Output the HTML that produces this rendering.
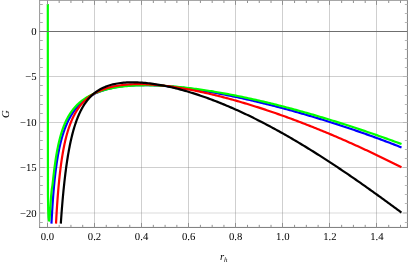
<!DOCTYPE html>
<html><head><meta charset="utf-8"><title>plot</title>
<style>
html,body{margin:0;padding:0;background:#fff;}
body{width:409px;height:264px;overflow:hidden;font-family:"Liberation Serif",serif;}
svg{display:block;}
text{font-family:"Liberation Serif",serif;fill:#000;text-rendering:geometricPrecision;}
</style></head><body>
<svg width="409" height="264" viewBox="0 0 409 264">
<rect x="0" y="0" width="409" height="264" fill="#fff"/>

<g stroke-width="1" fill="none" shape-rendering="crispEdges" stroke-opacity="0.38">
<line x1="47.50" y1="0.5" x2="47.50" y2="227.45" stroke="#808080"/>
<line x1="94.50" y1="0.5" x2="94.50" y2="227.45" stroke="#808080"/>
<line x1="141.50" y1="0.5" x2="141.50" y2="227.45" stroke="#808080"/>
<line x1="188.50" y1="0.5" x2="188.50" y2="227.45" stroke="#808080"/>
<line x1="235.50" y1="0.5" x2="235.50" y2="227.45" stroke="#808080"/>
<line x1="282.50" y1="0.5" x2="282.50" y2="227.45" stroke="#808080"/>
<line x1="329.50" y1="0.5" x2="329.50" y2="227.45" stroke="#808080"/>
<line x1="376.50" y1="0.5" x2="376.50" y2="227.45" stroke="#808080"/>
<line x1="39.5" y1="31.50" x2="407.5" y2="31.50" stroke="#808080"/>
<line x1="39.5" y1="76.50" x2="407.5" y2="76.50" stroke="#808080"/>
<line x1="39.5" y1="122.50" x2="407.5" y2="122.50" stroke="#808080"/>
<line x1="39.5" y1="167.50" x2="407.5" y2="167.50" stroke="#808080"/>
<rect x="39.5" y="212" width="368.0" height="2" fill="#808080" fill-opacity="0.14" stroke="none"/>
</g>
<g fill="none" stroke-width="2.2" stroke-linejoin="round" stroke-linecap="square">
<path d="M51.51,222.50 L51.71,218.61 L52.08,212.11 L52.46,206.16 L52.83,200.72 L53.20,195.72 L53.57,191.12 L53.94,186.86 L54.32,182.92 L54.69,179.25 L55.06,175.83 L55.43,172.63 L55.80,169.63 L56.18,166.81 L56.55,164.16 L56.92,161.66 L57.29,159.29 L57.66,157.04 L58.03,154.91 L58.41,152.89 L58.78,150.96 L59.15,149.12 L59.52,147.37 L59.89,145.69 L60.27,144.08 L60.64,142.54 L61.01,141.07 L61.38,139.65 L61.75,138.28 L62.13,136.97 L62.50,135.71 L62.87,134.49 L63.24,133.32 L63.61,132.18 L63.98,131.08 L64.36,130.03 L64.73,129.00 L65.10,128.01 L65.47,127.05 L65.84,126.12 L66.22,125.21 L66.59,124.34 L66.96,123.48 L67.33,122.66 L67.70,121.86 L68.08,121.07 L68.45,120.32 L68.82,119.58 L69.19,118.86 L69.56,118.16 L69.94,117.48 L70.31,116.81 L70.68,116.16 L71.05,115.53 L71.42,114.92 L71.79,114.32 L72.17,113.73 L72.54,113.16 L72.91,112.60 L73.28,112.05 L73.65,111.52 L74.03,111.00 L74.40,110.49 L74.77,109.99 L75.14,109.50 L75.51,109.03 L75.89,108.56 L76.26,108.10 L76.63,107.66 L77.00,107.22 L77.37,106.79 L77.74,106.37 L78.12,105.96 L78.49,105.56 L78.86,105.17 L79.23,104.78 L79.60,104.40 L79.98,104.03 L80.35,103.67 L80.72,103.31 L81.09,102.96 L81.46,102.62 L81.84,102.28 L82.21,101.95 L82.58,101.63 L82.95,101.31 L83.32,101.00 L83.70,100.69 L84.07,100.39 L84.44,100.09 L84.81,99.80 L85.18,99.52 L85.55,99.24 L85.93,98.97 L86.30,98.70 L86.67,98.43 L87.04,98.17 L87.41,97.92 L87.79,97.67 L88.16,97.42 L88.53,97.18 L88.90,96.94 L89.27,96.71 L89.65,96.48 L90.02,96.25 L90.39,96.03 L90.76,95.81 L91.13,95.60 L91.50,95.39 L91.88,95.18 L92.25,94.98 L92.62,94.78 L92.99,94.58 L93.36,94.39 L93.74,94.20 L94.11,94.01 L94.48,93.83 L96.02,93.10 L97.56,92.42 L99.09,91.79 L100.63,91.20 L102.17,90.65 L103.71,90.14 L105.24,89.66 L106.78,89.21 L108.32,88.80 L109.86,88.41 L111.40,88.06 L112.93,87.72 L114.47,87.42 L116.01,87.13 L117.55,86.87 L119.08,86.63 L120.62,86.42 L122.16,86.22 L123.70,86.03 L125.24,85.87 L126.77,85.72 L128.31,85.59 L129.85,85.48 L131.39,85.37 L132.92,85.29 L134.46,85.21 L136.00,85.15 L137.54,85.11 L139.08,85.07 L140.61,85.05 L142.15,85.04 L143.69,85.04 L145.23,85.04 L146.76,85.06 L148.30,85.09 L149.84,85.13 L151.38,85.18 L152.92,85.24 L154.45,85.30 L155.99,85.38 L157.53,85.46 L159.07,85.55 L160.60,85.65 L162.14,85.75 L163.68,85.86 L165.22,85.98 L166.76,86.11 L168.29,86.24 L169.83,86.38 L171.37,86.53 L172.91,86.68 L174.45,86.84 L175.98,87.00 L177.52,87.17 L179.06,87.35 L180.60,87.53 L182.13,87.72 L183.67,87.91 L185.21,88.11 L186.75,88.31 L188.29,88.51 L189.82,88.73 L191.36,88.94 L192.90,89.16 L194.44,89.39 L195.97,89.62 L197.51,89.85 L199.05,90.09 L200.59,90.34 L202.13,90.58 L203.66,90.84 L205.20,91.09 L206.74,91.35 L208.28,91.61 L209.81,91.88 L211.35,92.15 L212.89,92.43 L214.43,92.71 L215.97,92.99 L217.50,93.27 L219.04,93.56 L220.58,93.86 L222.12,94.15 L223.65,94.45 L225.19,94.75 L226.73,95.06 L228.27,95.37 L229.81,95.68 L231.34,96.00 L232.88,96.32 L234.42,96.64 L235.96,96.97 L237.49,97.29 L239.03,97.63 L240.57,97.96 L242.11,98.30 L243.65,98.64 L245.18,98.98 L246.72,99.33 L248.26,99.68 L249.80,100.03 L251.33,100.39 L252.87,100.74 L254.41,101.10 L255.95,101.47 L257.49,101.83 L259.02,102.20 L260.56,102.57 L262.10,102.95 L263.64,103.33 L265.17,103.71 L266.71,104.09 L268.25,104.47 L269.79,104.86 L271.33,105.25 L272.86,105.64 L274.40,106.04 L275.94,106.44 L277.48,106.84 L279.01,107.24 L280.55,107.65 L282.09,108.06 L283.63,108.47 L285.17,108.88 L286.70,109.30 L288.24,109.72 L289.78,110.14 L291.32,110.56 L292.85,110.99 L294.39,111.42 L295.93,111.85 L297.47,112.28 L299.01,112.72 L300.54,113.16 L302.08,113.60 L303.62,114.04 L305.16,114.49 L306.69,114.94 L308.23,115.39 L309.77,115.84 L311.31,116.30 L312.85,116.75 L314.38,117.21 L315.92,117.68 L317.46,118.14 L319.00,118.61 L320.53,119.08 L322.07,119.56 L323.61,120.03 L325.15,120.51 L326.69,120.99 L328.22,121.47 L329.76,121.96 L331.30,122.45 L332.84,122.94 L334.38,123.43 L335.91,123.92 L337.45,124.42 L338.99,124.92 L340.53,125.43 L342.06,125.93 L343.60,126.44 L345.14,126.95 L346.68,127.46 L348.22,127.98 L349.75,128.49 L351.29,129.01 L352.83,129.54 L354.37,130.06 L355.90,130.59 L357.44,131.12 L358.98,131.65 L360.52,132.19 L362.06,132.73 L363.59,133.27 L365.13,133.81 L366.67,134.35 L368.21,134.90 L369.74,135.45 L371.28,136.00 L372.82,136.56 L374.36,137.12 L375.90,137.68 L377.43,138.24 L378.97,138.81 L380.51,139.38 L382.05,139.95 L383.58,140.52 L385.12,141.10 L386.66,141.68 L388.20,142.26 L389.74,142.84 L391.27,143.43 L392.81,144.02 L394.35,144.61 L395.89,145.21 L397.42,145.80 L398.96,146.40 L400.50,147.01" stroke="#0000ff"/>
<path d="M47.80,5.00 L47.85,100.00 L47.95,196.00 L48.20,210.00 L48.50,217.00 L48.90,220.30 L49.20,220.60 L49.50,219.50 L49.90,215.00 L50.40,207.00 L51.10,196.00 L51.70,190.00 L52.46,185.10 L52.82,181.85 L53.18,178.66 L53.53,175.55 L53.89,172.55 L54.24,169.68 L54.60,166.93 L54.96,164.31 L55.31,161.81 L55.67,159.44 L56.02,157.18 L56.38,155.02 L56.74,152.97 L57.09,151.01 L57.45,149.14 L57.81,147.36 L58.16,145.65 L58.52,144.02 L58.87,142.46 L59.23,140.97 L59.59,139.53 L59.94,138.15 L60.30,136.83 L60.65,135.56 L61.01,134.34 L61.37,133.16 L61.72,132.03 L62.08,130.93 L62.43,129.88 L62.79,128.86 L63.15,127.87 L63.50,126.92 L63.86,126.00 L64.21,125.11 L64.57,124.25 L64.93,123.41 L65.28,122.60 L65.64,121.81 L65.99,121.05 L66.35,120.31 L66.71,119.59 L67.06,118.89 L67.42,118.21 L67.77,117.55 L68.13,116.90 L68.49,116.28 L68.84,115.66 L69.20,115.07 L69.56,114.49 L69.91,113.93 L70.27,113.38 L70.62,112.84 L70.98,112.31 L71.34,111.80 L71.69,111.30 L72.05,110.81 L72.40,110.34 L72.76,109.87 L73.12,109.42 L73.47,108.97 L73.83,108.54 L74.18,108.11 L74.54,107.69 L74.90,107.29 L75.25,106.89 L75.61,106.50 L75.96,106.11 L76.32,105.74 L76.68,105.37 L77.03,105.01 L77.39,104.66 L77.74,104.31 L78.10,103.98 L78.46,103.64 L78.81,103.32 L79.17,103.00 L79.53,102.69 L79.88,102.38 L80.24,102.08 L80.59,101.78 L80.95,101.49 L81.31,101.20 L81.66,100.92 L82.02,100.65 L82.37,100.38 L82.73,100.11 L83.09,99.85 L83.44,99.60 L83.80,99.35 L84.15,99.10 L84.51,98.86 L84.87,98.62 L85.22,98.38 L85.58,98.15 L85.93,97.92 L86.29,97.70 L86.65,97.48 L87.00,97.27 L87.36,97.05 L87.71,96.85 L88.07,96.64 L88.43,96.44 L88.78,96.24 L89.14,96.05 L89.50,95.85 L89.85,95.67 L90.21,95.48 L90.56,95.30 L90.92,95.12 L91.28,94.94 L91.63,94.76 L91.99,94.59 L92.34,94.42 L92.70,94.26 L93.06,94.09 L93.41,93.93 L93.77,93.77 L94.12,93.62 L94.48,93.46 L96.02,92.83 L97.56,92.23 L99.09,91.67 L100.63,91.15 L102.17,90.66 L103.71,90.20 L105.24,89.77 L106.78,89.37 L108.32,89.00 L109.86,88.65 L111.40,88.32 L112.93,88.01 L114.47,87.73 L116.01,87.47 L117.55,87.22 L119.08,86.99 L120.62,86.78 L122.16,86.59 L123.70,86.41 L125.24,86.25 L126.77,86.10 L128.31,85.96 L129.85,85.84 L131.39,85.73 L132.92,85.64 L134.46,85.55 L136.00,85.48 L137.54,85.42 L139.08,85.37 L140.61,85.33 L142.15,85.30 L143.69,85.28 L145.23,85.27 L146.76,85.27 L148.30,85.27 L149.84,85.29 L151.38,85.31 L152.92,85.35 L154.45,85.39 L155.99,85.44 L157.53,85.49 L159.07,85.56 L160.60,85.63 L162.14,85.71 L163.68,85.79 L165.22,85.88 L166.76,85.98 L168.29,86.09 L169.83,86.20 L171.37,86.31 L172.91,86.44 L174.45,86.57 L175.98,86.70 L177.52,86.84 L179.06,86.99 L180.60,87.14 L182.13,87.30 L183.67,87.46 L185.21,87.63 L186.75,87.80 L188.29,87.98 L189.82,88.16 L191.36,88.35 L192.90,88.55 L194.44,88.74 L195.97,88.95 L197.51,89.15 L199.05,89.36 L200.59,89.58 L202.13,89.80 L203.66,90.03 L205.20,90.25 L206.74,90.49 L208.28,90.73 L209.81,90.97 L211.35,91.21 L212.89,91.46 L214.43,91.72 L215.97,91.97 L217.50,92.23 L219.04,92.50 L220.58,92.77 L222.12,93.04 L223.65,93.32 L225.19,93.60 L226.73,93.88 L228.27,94.17 L229.81,94.46 L231.34,94.76 L232.88,95.05 L234.42,95.35 L235.96,95.66 L237.49,95.97 L239.03,96.28 L240.57,96.59 L242.11,96.91 L243.65,97.23 L245.18,97.56 L246.72,97.89 L248.26,98.22 L249.80,98.55 L251.33,98.89 L252.87,99.23 L254.41,99.57 L255.95,99.92 L257.49,100.27 L259.02,100.62 L260.56,100.97 L262.10,101.33 L263.64,101.69 L265.17,102.06 L266.71,102.43 L268.25,102.79 L269.79,103.17 L271.33,103.54 L272.86,103.92 L274.40,104.30 L275.94,104.69 L277.48,105.07 L279.01,105.46 L280.55,105.85 L282.09,106.25 L283.63,106.65 L285.17,107.05 L286.70,107.45 L288.24,107.85 L289.78,108.26 L291.32,108.67 L292.85,109.08 L294.39,109.50 L295.93,109.92 L297.47,110.34 L299.01,110.76 L300.54,111.19 L302.08,111.62 L303.62,112.05 L305.16,112.48 L306.69,112.92 L308.23,113.35 L309.77,113.79 L311.31,114.24 L312.85,114.68 L314.38,115.13 L315.92,115.58 L317.46,116.03 L319.00,116.49 L320.53,116.94 L322.07,117.40 L323.61,117.86 L325.15,118.33 L326.69,118.79 L328.22,119.26 L329.76,119.73 L331.30,120.21 L332.84,120.68 L334.38,121.16 L335.91,121.64 L337.45,122.12 L338.99,122.60 L340.53,123.09 L342.06,123.58 L343.60,124.07 L345.14,124.56 L346.68,125.06 L348.22,125.55 L349.75,126.05 L351.29,126.55 L352.83,127.06 L354.37,127.56 L355.90,128.07 L357.44,128.58 L358.98,129.09 L360.52,129.61 L362.06,130.12 L363.59,130.64 L365.13,131.16 L366.67,131.68 L368.21,132.21 L369.74,132.73 L371.28,133.26 L372.82,133.79 L374.36,134.32 L375.90,134.86 L377.43,135.39 L378.97,135.93 L380.51,136.47 L382.05,137.01 L383.58,137.56 L385.12,138.10 L386.66,138.65 L388.20,139.20 L389.74,139.75 L391.27,140.31 L392.81,140.86 L394.35,141.42 L395.89,141.98 L397.42,142.54 L398.96,143.10 L400.50,143.67" stroke="#00ff00"/>
<path d="M56.07,222.50 L56.38,216.81 L56.74,210.88 L57.09,205.41 L57.45,200.34 L57.81,195.63 L58.16,191.24 L58.52,187.14 L58.87,183.30 L59.23,179.70 L59.59,176.32 L59.94,173.13 L60.30,170.12 L60.65,167.27 L61.01,164.57 L61.37,162.01 L61.72,159.58 L62.08,157.27 L62.43,155.07 L62.79,152.97 L63.15,150.97 L63.50,149.05 L63.86,147.22 L64.21,145.46 L64.57,143.78 L64.93,142.16 L65.28,140.61 L65.64,139.12 L65.99,137.68 L66.35,136.30 L66.71,134.97 L67.06,133.69 L67.42,132.45 L67.77,131.26 L68.13,130.10 L68.49,128.99 L68.84,127.91 L69.20,126.86 L69.56,125.85 L69.91,124.87 L70.27,123.92 L70.62,123.00 L70.98,122.11 L71.34,121.24 L71.69,120.40 L72.05,119.58 L72.40,118.79 L72.76,118.02 L73.12,117.27 L73.47,116.54 L73.83,115.83 L74.18,115.14 L74.54,114.46 L74.90,113.81 L75.25,113.17 L75.61,112.54 L75.96,111.94 L76.32,111.35 L76.68,110.77 L77.03,110.20 L77.39,109.65 L77.74,109.12 L78.10,108.59 L78.46,108.08 L78.81,107.58 L79.17,107.09 L79.53,106.61 L79.88,106.15 L80.24,105.69 L80.59,105.24 L80.95,104.81 L81.31,104.38 L81.66,103.96 L82.02,103.55 L82.37,103.15 L82.73,102.76 L83.09,102.38 L83.44,102.00 L83.80,101.64 L84.15,101.28 L84.51,100.92 L84.87,100.58 L85.22,100.24 L85.58,99.91 L85.93,99.58 L86.29,99.27 L86.65,98.95 L87.00,98.65 L87.36,98.35 L87.71,98.05 L88.07,97.76 L88.43,97.48 L88.78,97.20 L89.14,96.93 L89.50,96.66 L89.85,96.40 L90.21,96.14 L90.56,95.89 L90.92,95.64 L91.28,95.40 L91.63,95.16 L91.99,94.93 L92.34,94.70 L92.70,94.47 L93.06,94.25 L93.41,94.04 L93.77,93.82 L94.12,93.61 L94.48,93.41 L96.02,92.56 L97.56,91.78 L99.09,91.06 L100.63,90.39 L102.17,89.77 L103.71,89.20 L105.24,88.67 L106.78,88.18 L108.32,87.73 L109.86,87.32 L111.40,86.94 L112.93,86.59 L114.47,86.27 L116.01,85.97 L117.55,85.71 L119.08,85.47 L120.62,85.25 L122.16,85.06 L123.70,84.88 L125.24,84.73 L126.77,84.60 L128.31,84.48 L129.85,84.39 L131.39,84.31 L132.92,84.25 L134.46,84.20 L136.00,84.17 L137.54,84.15 L139.08,84.14 L140.61,84.15 L142.15,84.18 L143.69,84.21 L145.23,84.26 L146.76,84.32 L148.30,84.39 L149.84,84.47 L151.38,84.56 L152.92,84.67 L154.45,84.78 L155.99,84.90 L157.53,85.03 L159.07,85.18 L160.60,85.33 L162.14,85.49 L163.68,85.65 L165.22,85.83 L166.76,86.01 L168.29,86.20 L169.83,86.40 L171.37,86.61 L172.91,86.83 L174.45,87.05 L175.98,87.28 L177.52,87.51 L179.06,87.76 L180.60,88.01 L182.13,88.26 L183.67,88.53 L185.21,88.80 L186.75,89.07 L188.29,89.35 L189.82,89.64 L191.36,89.93 L192.90,90.23 L194.44,90.54 L195.97,90.85 L197.51,91.16 L199.05,91.49 L200.59,91.81 L202.13,92.14 L203.66,92.48 L205.20,92.82 L206.74,93.17 L208.28,93.53 L209.81,93.88 L211.35,94.25 L212.89,94.61 L214.43,94.99 L215.97,95.36 L217.50,95.74 L219.04,96.13 L220.58,96.52 L222.12,96.92 L223.65,97.32 L225.19,97.72 L226.73,98.13 L228.27,98.54 L229.81,98.96 L231.34,99.38 L232.88,99.81 L234.42,100.24 L235.96,100.67 L237.49,101.11 L239.03,101.55 L240.57,102.00 L242.11,102.45 L243.65,102.90 L245.18,103.36 L246.72,103.82 L248.26,104.29 L249.80,104.76 L251.33,105.23 L252.87,105.71 L254.41,106.19 L255.95,106.68 L257.49,107.17 L259.02,107.66 L260.56,108.15 L262.10,108.65 L263.64,109.16 L265.17,109.66 L266.71,110.17 L268.25,110.69 L269.79,111.21 L271.33,111.73 L272.86,112.25 L274.40,112.78 L275.94,113.31 L277.48,113.85 L279.01,114.39 L280.55,114.93 L282.09,115.47 L283.63,116.02 L285.17,116.57 L286.70,117.13 L288.24,117.69 L289.78,118.25 L291.32,118.82 L292.85,119.39 L294.39,119.96 L295.93,120.53 L297.47,121.11 L299.01,121.69 L300.54,122.28 L302.08,122.87 L303.62,123.46 L305.16,124.05 L306.69,124.65 L308.23,125.25 L309.77,125.86 L311.31,126.46 L312.85,127.07 L314.38,127.69 L315.92,128.30 L317.46,128.92 L319.00,129.55 L320.53,130.17 L322.07,130.80 L323.61,131.44 L325.15,132.07 L326.69,132.71 L328.22,133.35 L329.76,134.00 L331.30,134.64 L332.84,135.29 L334.38,135.95 L335.91,136.60 L337.45,137.26 L338.99,137.93 L340.53,138.59 L342.06,139.26 L343.60,139.93 L345.14,140.61 L346.68,141.28 L348.22,141.96 L349.75,142.65 L351.29,143.33 L352.83,144.02 L354.37,144.72 L355.90,145.41 L357.44,146.11 L358.98,146.81 L360.52,147.51 L362.06,148.22 L363.59,148.93 L365.13,149.64 L366.67,150.36 L368.21,151.08 L369.74,151.80 L371.28,152.52 L372.82,153.25 L374.36,153.98 L375.90,154.71 L377.43,155.45 L378.97,156.19 L380.51,156.93 L382.05,157.68 L383.58,158.42 L385.12,159.17 L386.66,159.93 L388.20,160.68 L389.74,161.44 L391.27,162.20 L392.81,162.97 L394.35,163.73 L395.89,164.50 L397.42,165.28 L398.96,166.05 L400.50,166.83" stroke="#ff0000"/>
<path d="M60.88,222.50 L60.93,221.70 L61.25,217.23 L61.56,212.96 L61.88,208.88 L62.20,204.98 L62.51,201.25 L62.83,197.67 L63.15,194.24 L63.46,190.95 L63.78,187.79 L64.10,184.76 L64.41,181.84 L64.73,179.04 L65.05,176.34 L65.36,173.75 L65.68,171.24 L65.99,168.83 L66.31,166.51 L66.63,164.26 L66.94,162.10 L67.26,160.01 L67.58,157.99 L67.89,156.04 L68.21,154.15 L68.53,152.32 L68.84,150.55 L69.16,148.84 L69.48,147.19 L69.79,145.58 L70.11,144.03 L70.43,142.52 L70.74,141.06 L71.06,139.64 L71.38,138.26 L71.69,136.92 L72.01,135.63 L72.32,134.37 L72.64,133.14 L72.96,131.95 L73.27,130.79 L73.59,129.67 L73.91,128.57 L74.22,127.51 L74.54,126.47 L74.86,125.47 L75.17,124.48 L75.49,123.53 L75.81,122.60 L76.12,121.69 L76.44,120.81 L76.76,119.94 L77.07,119.10 L77.39,118.28 L77.71,117.49 L78.02,116.71 L78.34,115.95 L78.65,115.21 L78.97,114.48 L79.29,113.78 L79.60,113.09 L79.92,112.41 L80.24,111.75 L80.55,111.11 L80.87,110.48 L81.19,109.87 L81.50,109.27 L81.82,108.69 L82.14,108.11 L82.45,107.55 L82.77,107.01 L83.09,106.47 L83.40,105.95 L83.72,105.44 L84.04,104.94 L84.35,104.45 L84.67,103.97 L84.98,103.50 L85.30,103.04 L85.62,102.59 L85.93,102.15 L86.25,101.72 L86.57,101.30 L86.88,100.89 L87.20,100.48 L87.52,100.09 L87.83,99.70 L88.15,99.32 L88.47,98.95 L88.78,98.58 L89.10,98.23 L89.42,97.88 L89.73,97.54 L90.05,97.20 L90.37,96.87 L90.68,96.55 L91.00,96.23 L91.31,95.92 L91.63,95.62 L91.95,95.32 L92.26,95.03 L92.58,94.75 L92.90,94.47 L93.21,94.19 L93.53,93.92 L93.85,93.66 L94.16,93.40 L94.48,93.14 L96.02,91.98 L97.56,90.92 L99.09,89.95 L100.63,89.07 L102.17,88.27 L103.71,87.55 L105.24,86.89 L106.78,86.29 L108.32,85.74 L109.86,85.25 L111.40,84.81 L112.93,84.41 L114.47,84.06 L116.01,83.75 L117.55,83.47 L119.08,83.22 L120.62,83.01 L122.16,82.83 L123.70,82.68 L125.24,82.56 L126.77,82.46 L128.31,82.39 L129.85,82.34 L131.39,82.31 L132.92,82.30 L134.46,82.32 L136.00,82.35 L137.54,82.41 L139.08,82.48 L140.61,82.57 L142.15,82.67 L143.69,82.79 L145.23,82.93 L146.76,83.09 L148.30,83.25 L149.84,83.43 L151.38,83.63 L152.92,83.84 L154.45,84.06 L155.99,84.30 L157.53,84.54 L159.07,84.80 L160.60,85.08 L162.14,85.36 L163.68,85.65 L165.22,85.96 L166.76,86.28 L168.29,86.60 L169.83,86.94 L171.37,87.29 L172.91,87.65 L174.45,88.02 L175.98,88.39 L177.52,88.78 L179.06,89.18 L180.60,89.59 L182.13,90.00 L183.67,90.43 L185.21,90.86 L186.75,91.30 L188.29,91.76 L189.82,92.22 L191.36,92.69 L192.90,93.16 L194.44,93.65 L195.97,94.14 L197.51,94.65 L199.05,95.16 L200.59,95.67 L202.13,96.20 L203.66,96.73 L205.20,97.28 L206.74,97.83 L208.28,98.38 L209.81,98.95 L211.35,99.52 L212.89,100.10 L214.43,100.69 L215.97,101.28 L217.50,101.89 L219.04,102.50 L220.58,103.11 L222.12,103.73 L223.65,104.37 L225.19,105.00 L226.73,105.65 L228.27,106.30 L229.81,106.96 L231.34,107.62 L232.88,108.29 L234.42,108.97 L235.96,109.65 L237.49,110.35 L239.03,111.04 L240.57,111.75 L242.11,112.46 L243.65,113.18 L245.18,113.90 L246.72,114.63 L248.26,115.36 L249.80,116.11 L251.33,116.85 L252.87,117.61 L254.41,118.37 L255.95,119.13 L257.49,119.91 L259.02,120.68 L260.56,121.47 L262.10,122.26 L263.64,123.05 L265.17,123.85 L266.71,124.66 L268.25,125.47 L269.79,126.29 L271.33,127.11 L272.86,127.94 L274.40,128.78 L275.94,129.62 L277.48,130.46 L279.01,131.31 L280.55,132.17 L282.09,133.03 L283.63,133.90 L285.17,134.77 L286.70,135.65 L288.24,136.53 L289.78,137.42 L291.32,138.31 L292.85,139.21 L294.39,140.11 L295.93,141.01 L297.47,141.93 L299.01,142.84 L300.54,143.76 L302.08,144.69 L303.62,145.62 L305.16,146.56 L306.69,147.50 L308.23,148.44 L309.77,149.39 L311.31,150.34 L312.85,151.30 L314.38,152.26 L315.92,153.23 L317.46,154.20 L319.00,155.18 L320.53,156.15 L322.07,157.14 L323.61,158.13 L325.15,159.12 L326.69,160.11 L328.22,161.11 L329.76,162.12 L331.30,163.13 L332.84,164.14 L334.38,165.15 L335.91,166.17 L337.45,167.20 L338.99,168.22 L340.53,169.25 L342.06,170.29 L343.60,171.33 L345.14,172.37 L346.68,173.41 L348.22,174.46 L349.75,175.51 L351.29,176.57 L352.83,177.63 L354.37,178.69 L355.90,179.76 L357.44,180.82 L358.98,181.90 L360.52,182.97 L362.06,184.05 L363.59,185.13 L365.13,186.21 L366.67,187.30 L368.21,188.39 L369.74,189.48 L371.28,190.58 L372.82,191.68 L374.36,192.78 L375.90,193.88 L377.43,194.99 L378.97,196.10 L380.51,197.21 L382.05,198.33 L383.58,199.44 L385.12,200.56 L386.66,201.69 L388.20,202.81 L389.74,203.94 L391.27,205.07 L392.81,206.20 L394.35,207.33 L395.89,208.47 L397.42,209.60 L398.96,210.74 L400.50,211.89" stroke="#000000"/>
</g>
<g stroke="#747474" stroke-width="1" fill="none">
<line x1="39.6" y1="0" x2="39.6" y2="227.95" stroke="#969696"/>
<line x1="407.45" y1="0" x2="407.45" y2="227.95" stroke="#848484"/>
<line x1="39.1" y1="0.35" x2="407.95" y2="0.35" stroke="#989898"/>
<line x1="39.1" y1="227.45" x2="407.95" y2="227.45" stroke="#7c7c7c"/>
</g>
<g stroke="#909090" stroke-width="1" fill="none">
<line x1="47.50" y1="227.45" x2="47.50" y2="222.95"/>
<line x1="47.50" y1="0.4" x2="47.50" y2="4.9"/>
<line x1="59.17" y1="227.45" x2="59.17" y2="224.85"/>
<line x1="59.17" y1="0.4" x2="59.17" y2="3.0"/>
<line x1="70.94" y1="227.45" x2="70.94" y2="224.85"/>
<line x1="70.94" y1="0.4" x2="70.94" y2="3.0"/>
<line x1="82.71" y1="227.45" x2="82.71" y2="224.85"/>
<line x1="82.71" y1="0.4" x2="82.71" y2="3.0"/>
<line x1="94.50" y1="227.45" x2="94.50" y2="222.95"/>
<line x1="94.50" y1="0.4" x2="94.50" y2="4.9"/>
<line x1="106.25" y1="227.45" x2="106.25" y2="224.85"/>
<line x1="106.25" y1="0.4" x2="106.25" y2="3.0"/>
<line x1="118.02" y1="227.45" x2="118.02" y2="224.85"/>
<line x1="118.02" y1="0.4" x2="118.02" y2="3.0"/>
<line x1="129.79" y1="227.45" x2="129.79" y2="224.85"/>
<line x1="129.79" y1="0.4" x2="129.79" y2="3.0"/>
<line x1="141.50" y1="227.45" x2="141.50" y2="222.95"/>
<line x1="141.50" y1="0.4" x2="141.50" y2="4.9"/>
<line x1="153.33" y1="227.45" x2="153.33" y2="224.85"/>
<line x1="153.33" y1="0.4" x2="153.33" y2="3.0"/>
<line x1="165.10" y1="227.45" x2="165.10" y2="224.85"/>
<line x1="165.10" y1="0.4" x2="165.10" y2="3.0"/>
<line x1="176.87" y1="227.45" x2="176.87" y2="224.85"/>
<line x1="176.87" y1="0.4" x2="176.87" y2="3.0"/>
<line x1="188.50" y1="227.45" x2="188.50" y2="222.95"/>
<line x1="188.50" y1="0.4" x2="188.50" y2="4.9"/>
<line x1="200.41" y1="227.45" x2="200.41" y2="224.85"/>
<line x1="200.41" y1="0.4" x2="200.41" y2="3.0"/>
<line x1="212.18" y1="227.45" x2="212.18" y2="224.85"/>
<line x1="212.18" y1="0.4" x2="212.18" y2="3.0"/>
<line x1="223.95" y1="227.45" x2="223.95" y2="224.85"/>
<line x1="223.95" y1="0.4" x2="223.95" y2="3.0"/>
<line x1="235.50" y1="227.45" x2="235.50" y2="222.95"/>
<line x1="235.50" y1="0.4" x2="235.50" y2="4.9"/>
<line x1="247.49" y1="227.45" x2="247.49" y2="224.85"/>
<line x1="247.49" y1="0.4" x2="247.49" y2="3.0"/>
<line x1="259.26" y1="227.45" x2="259.26" y2="224.85"/>
<line x1="259.26" y1="0.4" x2="259.26" y2="3.0"/>
<line x1="271.03" y1="227.45" x2="271.03" y2="224.85"/>
<line x1="271.03" y1="0.4" x2="271.03" y2="3.0"/>
<line x1="282.50" y1="227.45" x2="282.50" y2="222.95"/>
<line x1="282.50" y1="0.4" x2="282.50" y2="4.9"/>
<line x1="294.57" y1="227.45" x2="294.57" y2="224.85"/>
<line x1="294.57" y1="0.4" x2="294.57" y2="3.0"/>
<line x1="306.34" y1="227.45" x2="306.34" y2="224.85"/>
<line x1="306.34" y1="0.4" x2="306.34" y2="3.0"/>
<line x1="318.11" y1="227.45" x2="318.11" y2="224.85"/>
<line x1="318.11" y1="0.4" x2="318.11" y2="3.0"/>
<line x1="329.50" y1="227.45" x2="329.50" y2="222.95"/>
<line x1="329.50" y1="0.4" x2="329.50" y2="4.9"/>
<line x1="341.65" y1="227.45" x2="341.65" y2="224.85"/>
<line x1="341.65" y1="0.4" x2="341.65" y2="3.0"/>
<line x1="353.42" y1="227.45" x2="353.42" y2="224.85"/>
<line x1="353.42" y1="0.4" x2="353.42" y2="3.0"/>
<line x1="365.19" y1="227.45" x2="365.19" y2="224.85"/>
<line x1="365.19" y1="0.4" x2="365.19" y2="3.0"/>
<line x1="376.50" y1="227.45" x2="376.50" y2="222.95"/>
<line x1="376.50" y1="0.4" x2="376.50" y2="4.9"/>
<line x1="388.73" y1="227.45" x2="388.73" y2="224.85"/>
<line x1="388.73" y1="0.4" x2="388.73" y2="3.0"/>
<line x1="400.50" y1="227.45" x2="400.50" y2="224.85"/>
<line x1="400.50" y1="0.4" x2="400.50" y2="3.0"/>
</g>
<g stroke="#acacac" stroke-width="1" fill="none">
<line x1="39.6" y1="222.50" x2="42.800000000000004" y2="222.50"/>
<line x1="407.45" y1="222.50" x2="404.84999999999997" y2="222.50" stroke="#b6b6b6"/>
<line x1="39.6" y1="213.00" x2="44.7" y2="213.00"/>
<line x1="407.45" y1="213.00" x2="402.95" y2="213.00" stroke="#b6b6b6"/>
<line x1="39.6" y1="203.50" x2="42.800000000000004" y2="203.50"/>
<line x1="407.45" y1="203.50" x2="404.84999999999997" y2="203.50" stroke="#b6b6b6"/>
<line x1="39.6" y1="194.50" x2="42.800000000000004" y2="194.50"/>
<line x1="407.45" y1="194.50" x2="404.84999999999997" y2="194.50" stroke="#b6b6b6"/>
<line x1="39.6" y1="185.50" x2="42.800000000000004" y2="185.50"/>
<line x1="407.45" y1="185.50" x2="404.84999999999997" y2="185.50" stroke="#b6b6b6"/>
<line x1="39.6" y1="176.50" x2="42.800000000000004" y2="176.50"/>
<line x1="407.45" y1="176.50" x2="404.84999999999997" y2="176.50" stroke="#b6b6b6"/>
<line x1="39.6" y1="167.50" x2="44.7" y2="167.50"/>
<line x1="407.45" y1="167.50" x2="402.95" y2="167.50" stroke="#b6b6b6"/>
<line x1="39.6" y1="158.50" x2="42.800000000000004" y2="158.50"/>
<line x1="407.45" y1="158.50" x2="404.84999999999997" y2="158.50" stroke="#b6b6b6"/>
<line x1="39.6" y1="149.50" x2="42.800000000000004" y2="149.50"/>
<line x1="407.45" y1="149.50" x2="404.84999999999997" y2="149.50" stroke="#b6b6b6"/>
<line x1="39.6" y1="140.50" x2="42.800000000000004" y2="140.50"/>
<line x1="407.45" y1="140.50" x2="404.84999999999997" y2="140.50" stroke="#b6b6b6"/>
<line x1="39.6" y1="131.50" x2="42.800000000000004" y2="131.50"/>
<line x1="407.45" y1="131.50" x2="404.84999999999997" y2="131.50" stroke="#b6b6b6"/>
<line x1="39.6" y1="122.50" x2="44.7" y2="122.50"/>
<line x1="407.45" y1="122.50" x2="402.95" y2="122.50" stroke="#b6b6b6"/>
<line x1="39.6" y1="113.50" x2="42.800000000000004" y2="113.50"/>
<line x1="407.45" y1="113.50" x2="404.84999999999997" y2="113.50" stroke="#b6b6b6"/>
<line x1="39.6" y1="104.50" x2="42.800000000000004" y2="104.50"/>
<line x1="407.45" y1="104.50" x2="404.84999999999997" y2="104.50" stroke="#b6b6b6"/>
<line x1="39.6" y1="95.50" x2="42.800000000000004" y2="95.50"/>
<line x1="407.45" y1="95.50" x2="404.84999999999997" y2="95.50" stroke="#b6b6b6"/>
<line x1="39.6" y1="85.50" x2="42.800000000000004" y2="85.50"/>
<line x1="407.45" y1="85.50" x2="404.84999999999997" y2="85.50" stroke="#b6b6b6"/>
<line x1="39.6" y1="76.50" x2="44.7" y2="76.50"/>
<line x1="407.45" y1="76.50" x2="402.95" y2="76.50" stroke="#b6b6b6"/>
<line x1="39.6" y1="67.50" x2="42.800000000000004" y2="67.50"/>
<line x1="407.45" y1="67.50" x2="404.84999999999997" y2="67.50" stroke="#b6b6b6"/>
<line x1="39.6" y1="58.50" x2="42.800000000000004" y2="58.50"/>
<line x1="407.45" y1="58.50" x2="404.84999999999997" y2="58.50" stroke="#b6b6b6"/>
<line x1="39.6" y1="49.50" x2="42.800000000000004" y2="49.50"/>
<line x1="407.45" y1="49.50" x2="404.84999999999997" y2="49.50" stroke="#b6b6b6"/>
<line x1="39.6" y1="40.50" x2="42.800000000000004" y2="40.50"/>
<line x1="407.45" y1="40.50" x2="404.84999999999997" y2="40.50" stroke="#b6b6b6"/>
<line x1="39.6" y1="31.50" x2="44.7" y2="31.50"/>
<line x1="407.45" y1="31.50" x2="402.95" y2="31.50" stroke="#b6b6b6"/>
<line x1="39.6" y1="22.50" x2="42.800000000000004" y2="22.50"/>
<line x1="407.45" y1="22.50" x2="404.84999999999997" y2="22.50" stroke="#b6b6b6"/>
<line x1="39.6" y1="13.50" x2="42.800000000000004" y2="13.50"/>
<line x1="407.45" y1="13.50" x2="404.84999999999997" y2="13.50" stroke="#b6b6b6"/>
<line x1="39.6" y1="4.50" x2="42.800000000000004" y2="4.50"/>
<line x1="407.45" y1="4.50" x2="404.84999999999997" y2="4.50" stroke="#b6b6b6"/>
</g>
<line x1="39.5" y1="31.50" x2="407.5" y2="31.50" stroke="#6f6f6f" stroke-width="1"/>
<g fill="#000" stroke="none" font-size="10.7" style="will-change:transform">
<text x="40.71" y="240.2">0.0</text>
<text x="87.79" y="240.2">0.2</text>
<text x="134.87" y="240.2">0.4</text>
<text x="181.95" y="240.2">0.6</text>
<text x="229.03" y="240.2">0.8</text>
<text x="276.11" y="240.2">1.0</text>
<text x="323.19" y="240.2">1.2</text>
<text x="370.27" y="240.2">1.4</text>
<text x="31.35" y="35.00">0</text>
<text x="25.32" y="80.38">−5</text>
<text x="19.97" y="125.75">−10</text>
<text x="19.97" y="171.12">−15</text>
<text x="19.97" y="216.50">−20</text>
<text font-style="italic" transform="translate(9.2,118.0) rotate(-90)">G</text>
<text font-style="italic" x="220" y="260.2">r</text>
<text font-style="italic" font-size="7" x="224" y="262.3">h</text>
</g>
</svg></body></html>
